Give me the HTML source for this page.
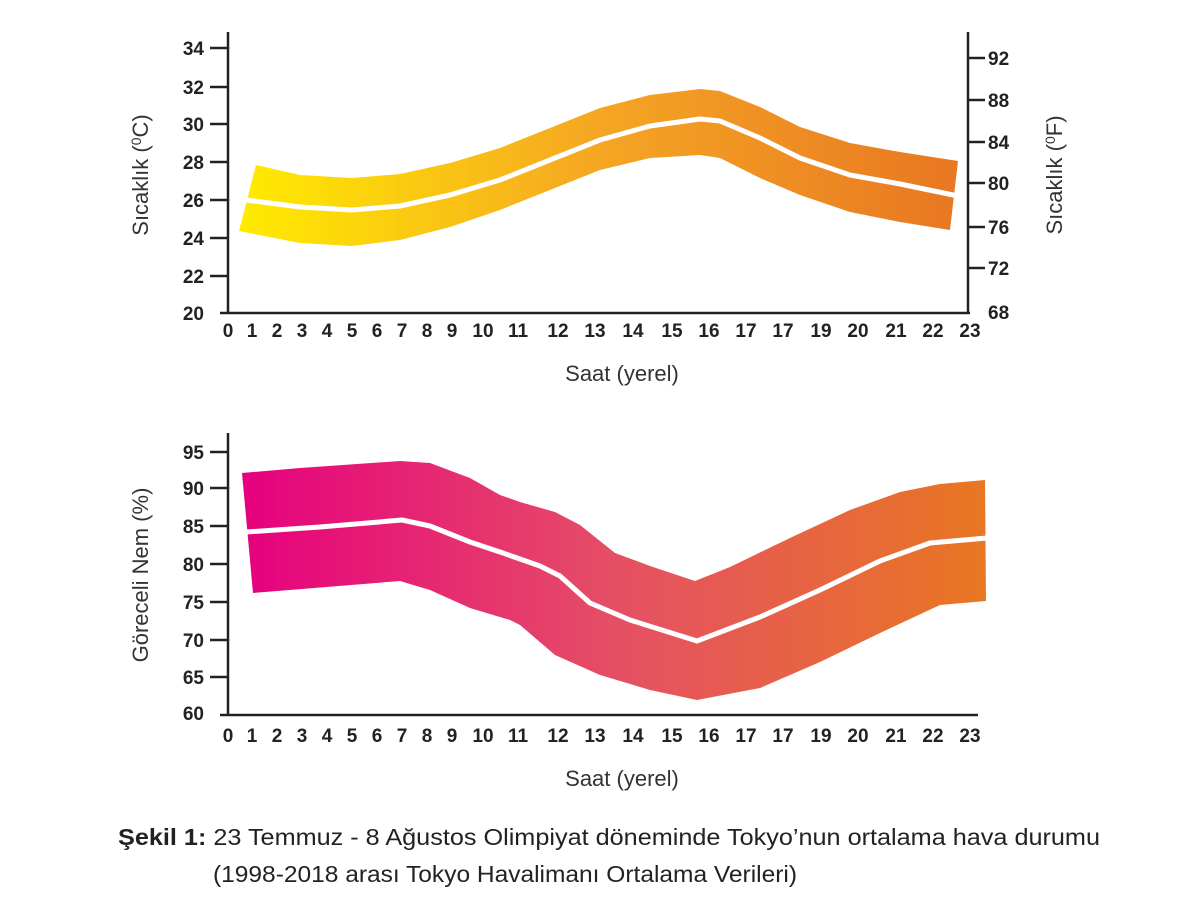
<!DOCTYPE html>
<html><head><meta charset="utf-8"><style>
body{margin:0;background:#fff;width:1200px;height:902px;overflow:hidden}
svg text{font-family:"Liberation Sans",sans-serif}
.t{font-weight:bold;font-size:19px;fill:#222}
.ti{font-size:22px;fill:#333}
</style></head><body>
<svg width="1200" height="902" viewBox="0 0 1200 902">
<defs>
<linearGradient id="gt" x1="239" x2="958" gradientUnits="userSpaceOnUse">
<stop offset="0" stop-color="#ffeb00"/><stop offset="0.5" stop-color="#f5a623"/><stop offset="1" stop-color="#e87722"/></linearGradient>
<linearGradient id="gb" x1="242" x2="985" gradientUnits="userSpaceOnUse">
<stop offset="0" stop-color="#e6007e"/><stop offset="0.5" stop-color="#e54f65"/><stop offset="1" stop-color="#e87722"/></linearGradient>
</defs>
<!-- top chart -->
<polygon fill="url(#gt)" stroke="none" points="256,165 300,175 352,178 400,174 450,163 500,148 550,128 600,108 650,95 700,89 720,91 760,107 800,127 850,143 900,152 958,161 950,230 900,222 850,212 800,195 760,178 720,158 700,155 650,158 600,170 550,190 500,210 450,227 400,240 352,246 300,243 239,231"/>
<polyline fill="none" stroke="#fff" stroke-width="5" stroke-linejoin="round" points="246,200 300,207 352,210 400,206 450,195 500,180 550,160 600,140 650,126 700,119 720,121 760,138 800,158 850,175 900,184 958,196"/>
<g stroke="#222" stroke-width="2.5">
<line x1="228" y1="32" x2="228" y2="314"/><line x1="220" y1="313" x2="970" y2="313"/>
<line x1="968" y1="32" x2="968" y2="314"/>
<line x1="210" y1="48" x2="228" y2="48"/><line x1="210" y1="87" x2="228" y2="87"/><line x1="210" y1="124" x2="228" y2="124"/><line x1="210" y1="162" x2="228" y2="162"/><line x1="210" y1="200" x2="228" y2="200"/><line x1="210" y1="238" x2="228" y2="238"/><line x1="210" y1="276" x2="228" y2="276"/>
<line x1="968" y1="58" x2="985" y2="58"/><line x1="968" y1="100" x2="985" y2="100"/><line x1="968" y1="142" x2="985" y2="142"/><line x1="968" y1="183" x2="985" y2="183"/><line x1="968" y1="227" x2="985" y2="227"/><line x1="968" y1="268" x2="985" y2="268"/>
</g>
<g class="t" text-anchor="end">
<text x="204" y="55">34</text><text x="204" y="94">32</text><text x="204" y="131">30</text><text x="204" y="169">28</text><text x="204" y="207">26</text><text x="204" y="245">24</text><text x="204" y="283">22</text><text x="204" y="320">20</text>
</g>
<g class="t">
<text x="988" y="65">92</text><text x="988" y="107">88</text><text x="988" y="149">84</text><text x="988" y="190">80</text><text x="988" y="234">76</text><text x="988" y="275">72</text><text x="988" y="319">68</text>
</g>
<g class="t" text-anchor="middle">
<text x="228" y="337">0</text><text x="252" y="337">1</text><text x="277" y="337">2</text><text x="302" y="337">3</text><text x="327" y="337">4</text><text x="352" y="337">5</text><text x="377" y="337">6</text><text x="402" y="337">7</text><text x="427" y="337">8</text><text x="452" y="337">9</text><text x="483" y="337">10</text><text x="518" y="337">11</text><text x="558" y="337">12</text><text x="595" y="337">13</text><text x="633" y="337">14</text><text x="672" y="337">15</text><text x="709" y="337">16</text><text x="746" y="337">17</text><text x="783" y="337">17</text><text x="821" y="337">19</text><text x="858" y="337">20</text><text x="896" y="337">21</text><text x="933" y="337">22</text><text x="970" y="337">23</text>
</g>
<text class="ti" x="622" y="381" text-anchor="middle">Saat (yerel)</text>
<text class="ti" transform="translate(148,175) rotate(-90)" text-anchor="middle">Sıcaklık (<tspan font-size="14" dy="-7">0</tspan><tspan dy="7">C)</tspan></text>
<text class="ti" transform="translate(1062,175) rotate(-90)" text-anchor="middle">Sıcaklık (<tspan font-size="14" dy="-7">0</tspan><tspan dy="7">F)</tspan></text>

<!-- bottom chart -->
<polygon fill="url(#gb)" points="242,473 300,468 400,461 430,463 470,478 500,495 520,502 555,512 580,525 615,553 650,566 695,581 730,567 790,538 850,510 900,492 940,484 985,480 986,601 940,605 880,633 820,662 760,688 697,700 650,690 600,675 555,655 520,625 510,620 470,608 430,590 400,581 253,593"/>
<polyline fill="none" stroke="#fff" stroke-width="5" stroke-linejoin="round" points="246,532 320,527 402,520 430,526 470,542 500,552 540,566 560,576 590,603 630,620 697,641 760,617 820,590 880,561 930,543 987,538"/>
<g stroke="#222" stroke-width="2.5">
<line x1="228" y1="433" x2="228" y2="716"/><line x1="220" y1="715" x2="978" y2="715"/>
<line x1="210" y1="452" x2="228" y2="452"/><line x1="210" y1="488" x2="228" y2="488"/><line x1="210" y1="526" x2="228" y2="526"/><line x1="210" y1="564" x2="228" y2="564"/><line x1="210" y1="602" x2="228" y2="602"/><line x1="210" y1="640" x2="228" y2="640"/><line x1="210" y1="677" x2="228" y2="677"/>
</g>
<g class="t" text-anchor="end">
<text x="204" y="459">95</text><text x="204" y="495">90</text><text x="204" y="533">85</text><text x="204" y="571">80</text><text x="204" y="609">75</text><text x="204" y="647">70</text><text x="204" y="684">65</text><text x="204" y="720">60</text>
</g>
<g class="t" text-anchor="middle">
<text x="228" y="742">0</text><text x="252" y="742">1</text><text x="277" y="742">2</text><text x="302" y="742">3</text><text x="327" y="742">4</text><text x="352" y="742">5</text><text x="377" y="742">6</text><text x="402" y="742">7</text><text x="427" y="742">8</text><text x="452" y="742">9</text><text x="483" y="742">10</text><text x="518" y="742">11</text><text x="558" y="742">12</text><text x="595" y="742">13</text><text x="633" y="742">14</text><text x="672" y="742">15</text><text x="709" y="742">16</text><text x="746" y="742">17</text><text x="783" y="742">17</text><text x="821" y="742">19</text><text x="858" y="742">20</text><text x="896" y="742">21</text><text x="933" y="742">22</text><text x="970" y="742">23</text>
</g>
<text class="ti" x="622" y="786" text-anchor="middle">Saat (yerel)</text>
<text class="ti" transform="translate(148,575) rotate(-90)" text-anchor="middle">Göreceli Nem (%)</text>

<text x="118" y="845" font-size="23" fill="#222" textLength="982" lengthAdjust="spacingAndGlyphs"><tspan font-weight="bold">Şekil 1:</tspan> 23 Temmuz - 8 Ağustos Olimpiyat döneminde Tokyo’nun ortalama hava durumu</text>
<text x="213" y="882" font-size="23" fill="#222" textLength="584" lengthAdjust="spacingAndGlyphs">(1998-2018 arası Tokyo Havalimanı Ortalama Verileri)</text>
</svg>
</body></html>
